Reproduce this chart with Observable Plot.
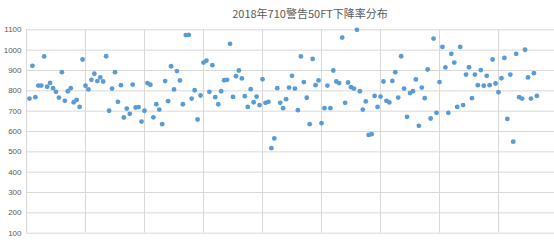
<!DOCTYPE html>
<html>
<head>
<meta charset="utf-8">
<script src="https://cdn.jsdelivr.net/npm/d3@7"></script>
<script src="https://cdn.jsdelivr.net/npm/@observablehq/plot@0.6"></script>
<style>
  body { margin: 0; background: #fff; width: 554px; height: 240px; overflow: hidden; position: relative; }
  #title { position: absolute; left: 0; top: 0; width: 620px; height: 22px; line-height: 26px; text-align: center;
           font-family: "Noto Sans CJK SC", sans-serif; font-size: 11px; color: #595959; }
  #chart { position: absolute; left: 0; top: 22px; }
  #chart svg { font-family: "Liberation Sans", sans-serif; }
</style>
</head>
<body>
<div id="title">2018年710警告50FT下降率分布</div>
<div id="chart"></div>
<script>
// descent-rate values, one per warning (index 1..173)
const rates = [
  762,923,769,826,826,969,820,839,813,795,767,892,751,798,813,744,756,721,954,825,
  807,854,884,848,866,846,970,702,811,892,746,828,669,713,
  687,831,718,720,649,702,838,830,670,734,708,636,848,749,921,807,897,851,734,1074,
  1075,762,803,659,777,939,949,795,926,769,734,798,852,854,1031,770,872,900,861,774,
  721,808,744,772,730,857,741,746,
  518,566,813,741,715,759,816,874,811,705,969,843,766,636,957,828,851,641,715,826,
  715,900,846,
  838,1062,741,841,818,811,1100,798,708,748,583,587,775,721,772,846,751,743,849,892,
  767,970,811,672,789,798,856,628,816,764,905,664,1057,692,843,1016,
  915,692,982,939,721,1016,730,880,916,764,880,828,902,825,874,828,954,836,793,862,
  962,662,880,550,982,769,762,1002,866,762,887,775
];
const yTicks = [100,200,300,400,500,600,700,800,900,1000,1100];
const xTicks = [0,20,40,60,80,100,120,140,160,180];

const data = rates.map((v, i) => ({ n: i + 1, v }));

const chart = Plot.plot({
  width: 554,
  height: 218,
  marginTop: 7.33,
  marginBottom: 7.3,
  marginLeft: 26,
  marginRight: 0,
  x: { domain: [0, 180], range: [26, 557] },
  y: { domain: [100, 1100], range: [210.7, 7.33] },
  marks: [
    Plot.gridX(xTicks, { stroke: "#d9d9d9", strokeOpacity: 1, strokeWidth: 1 }),
    Plot.gridY(yTicks, { stroke: "#d9d9d9", strokeOpacity: 1, strokeWidth: 1 }),
    Plot.axisY(yTicks, { tickSize: 0, tickPadding: 5, fontSize: 8, color: "#595959", label: null, tickFormat: d3.format("d") }),
    Plot.axisX({ ticks: [], label: null, tickSize: 0 }),
    Plot.dot(data, { x: "n", y: "v", r: 2.4, fill: "#5b9bd5", stroke: "none" })
  ]
});
document.getElementById("chart").appendChild(chart);
</script>
</body>
</html>
